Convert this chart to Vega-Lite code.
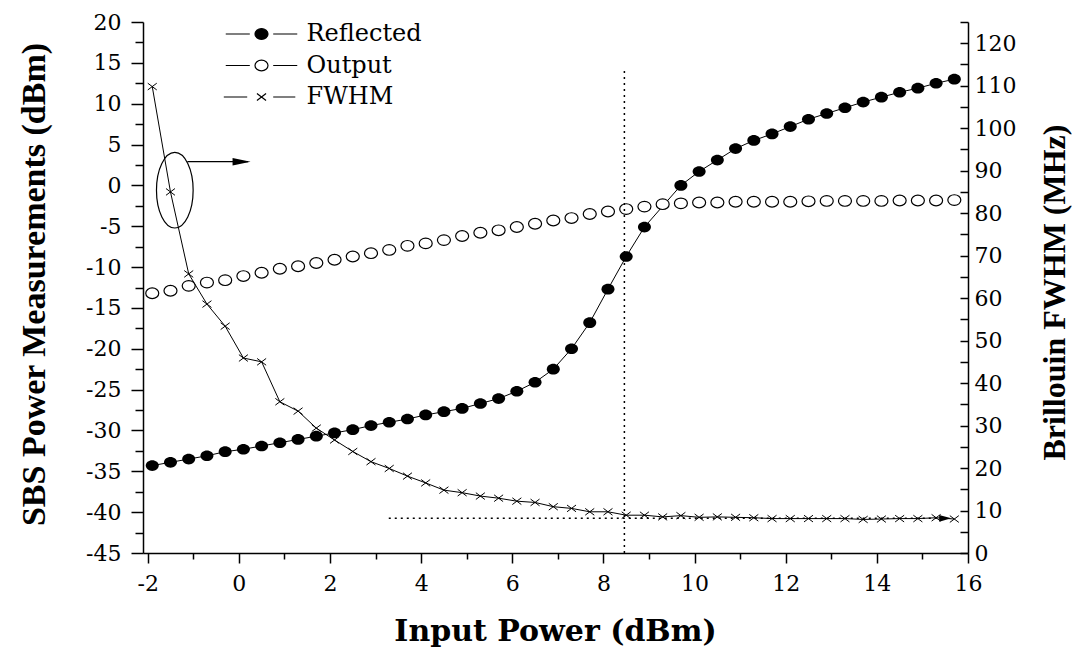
{
  "$schema": "https://vega.github.io/schema/vega-lite/v6.json",
  "width": 825,
  "height": 531,
  "autosize": {"type": "none"},
  "padding": {"left": 143, "top": 22, "right": 104, "bottom": 94},
  "background": "white",
  "config": {
    "view": {"stroke": null},
    "axis": {
      "domainColor": "black", "domainWidth": 1.5, "tickColor": "black", "tickWidth": 1.5,
      "labelColor": "black", "labelFont": "DejaVu Serif", "labelFontSize": 22,
      "titleColor": "black", "grid": false
    },
    "legend": {
      "padding": 0,
      "symbolSize": 169,
      "symbolStrokeWidth": 1.2,
      "symbolStrokeColor": "black",
      "labelFont": "DejaVu Serif",
      "labelFontSize": 24,
      "labelColor": "black",
      "labelOffset": 33,
      "rowPadding": 7.5
    }
  },
  "datasets": {
    "series": [
      {"s": "Reflected", "x": -1.9, "v": -34.3}, {"s": "Reflected", "x": -1.5, "v": -33.9}, {"s": "Reflected", "x": -1.1, "v": -33.5}, {"s": "Reflected", "x": -0.7, "v": -33.1}, {"s": "Reflected", "x": -0.3, "v": -32.6}, {"s": "Reflected", "x": 0.1, "v": -32.3}, {"s": "Reflected", "x": 0.5, "v": -31.9}, {"s": "Reflected", "x": 0.9, "v": -31.5}, {"s": "Reflected", "x": 1.3, "v": -31.1}, {"s": "Reflected", "x": 1.7, "v": -30.7}, {"s": "Reflected", "x": 2.1, "v": -30.3}, {"s": "Reflected", "x": 2.5, "v": -29.9}, {"s": "Reflected", "x": 2.9, "v": -29.4}, {"s": "Reflected", "x": 3.3, "v": -29.0}, {"s": "Reflected", "x": 3.7, "v": -28.6}, {"s": "Reflected", "x": 4.1, "v": -28.1}, {"s": "Reflected", "x": 4.5, "v": -27.7}, {"s": "Reflected", "x": 4.9, "v": -27.3}, {"s": "Reflected", "x": 5.3, "v": -26.7}, {"s": "Reflected", "x": 5.7, "v": -26.1}, {"s": "Reflected", "x": 6.1, "v": -25.2}, {"s": "Reflected", "x": 6.5, "v": -24.1}, {"s": "Reflected", "x": 6.9, "v": -22.5}, {"s": "Reflected", "x": 7.3, "v": -20.0}, {"s": "Reflected", "x": 7.7, "v": -16.8}, {"s": "Reflected", "x": 8.1, "v": -12.7}, {"s": "Reflected", "x": 8.5, "v": -8.7}, {"s": "Reflected", "x": 8.9, "v": -5.1}, {"s": "Reflected", "x": 9.7, "v": 0.0}, {"s": "Reflected", "x": 10.1, "v": 1.7}, {"s": "Reflected", "x": 10.5, "v": 3.1}, {"s": "Reflected", "x": 10.9, "v": 4.5}, {"s": "Reflected", "x": 11.3, "v": 5.5}, {"s": "Reflected", "x": 11.7, "v": 6.3}, {"s": "Reflected", "x": 12.1, "v": 7.2}, {"s": "Reflected", "x": 12.5, "v": 8.1}, {"s": "Reflected", "x": 12.9, "v": 8.8}, {"s": "Reflected", "x": 13.3, "v": 9.5}, {"s": "Reflected", "x": 13.7, "v": 10.2}, {"s": "Reflected", "x": 14.1, "v": 10.8}, {"s": "Reflected", "x": 14.5, "v": 11.4}, {"s": "Reflected", "x": 14.9, "v": 11.9}, {"s": "Reflected", "x": 15.3, "v": 12.5}, {"s": "Reflected", "x": 15.7, "v": 13.0},
      {"s": "Output", "x": -1.9, "v": -13.2}, {"s": "Output", "x": -1.5, "v": -12.9}, {"s": "Output", "x": -1.1, "v": -12.3}, {"s": "Output", "x": -0.7, "v": -11.9}, {"s": "Output", "x": -0.3, "v": -11.6}, {"s": "Output", "x": 0.1, "v": -11.1}, {"s": "Output", "x": 0.5, "v": -10.7}, {"s": "Output", "x": 0.9, "v": -10.2}, {"s": "Output", "x": 1.3, "v": -9.9}, {"s": "Output", "x": 1.7, "v": -9.5}, {"s": "Output", "x": 2.1, "v": -9.1}, {"s": "Output", "x": 2.5, "v": -8.7}, {"s": "Output", "x": 2.9, "v": -8.3}, {"s": "Output", "x": 3.3, "v": -7.9}, {"s": "Output", "x": 3.7, "v": -7.4}, {"s": "Output", "x": 4.1, "v": -7.1}, {"s": "Output", "x": 4.5, "v": -6.7}, {"s": "Output", "x": 4.9, "v": -6.2}, {"s": "Output", "x": 5.3, "v": -5.8}, {"s": "Output", "x": 5.7, "v": -5.5}, {"s": "Output", "x": 6.1, "v": -5.1}, {"s": "Output", "x": 6.5, "v": -4.7}, {"s": "Output", "x": 6.9, "v": -4.3}, {"s": "Output", "x": 7.3, "v": -4.0}, {"s": "Output", "x": 7.7, "v": -3.5}, {"s": "Output", "x": 8.1, "v": -3.2}, {"s": "Output", "x": 8.5, "v": -2.9}, {"s": "Output", "x": 8.9, "v": -2.6}, {"s": "Output", "x": 9.3, "v": -2.3}, {"s": "Output", "x": 9.7, "v": -2.2}, {"s": "Output", "x": 10.1, "v": -2.1}, {"s": "Output", "x": 10.5, "v": -2.1}, {"s": "Output", "x": 10.9, "v": -2.0}, {"s": "Output", "x": 11.3, "v": -2.0}, {"s": "Output", "x": 11.7, "v": -2.0}, {"s": "Output", "x": 12.1, "v": -2.0}, {"s": "Output", "x": 12.5, "v": -1.95}, {"s": "Output", "x": 12.9, "v": -1.9}, {"s": "Output", "x": 13.3, "v": -1.9}, {"s": "Output", "x": 13.7, "v": -1.9}, {"s": "Output", "x": 14.1, "v": -1.9}, {"s": "Output", "x": 14.5, "v": -1.85}, {"s": "Output", "x": 14.9, "v": -1.85}, {"s": "Output", "x": 15.3, "v": -1.85}, {"s": "Output", "x": 15.7, "v": -1.8},
      {"s": "FWHM", "x": -1.9, "v": 109.8}, {"s": "FWHM", "x": -1.5, "v": 85.0}, {"s": "FWHM", "x": -1.1, "v": 65.7}, {"s": "FWHM", "x": -0.7, "v": 58.6}, {"s": "FWHM", "x": -0.3, "v": 53.4}, {"s": "FWHM", "x": 0.1, "v": 45.9}, {"s": "FWHM", "x": 0.5, "v": 45.0}, {"s": "FWHM", "x": 0.9, "v": 35.6}, {"s": "FWHM", "x": 1.3, "v": 33.4}, {"s": "FWHM", "x": 1.7, "v": 29.4}, {"s": "FWHM", "x": 2.1, "v": 26.6}, {"s": "FWHM", "x": 2.5, "v": 23.9}, {"s": "FWHM", "x": 2.9, "v": 21.5}, {"s": "FWHM", "x": 3.3, "v": 19.9}, {"s": "FWHM", "x": 3.7, "v": 18.1}, {"s": "FWHM", "x": 4.1, "v": 16.5}, {"s": "FWHM", "x": 4.5, "v": 14.8}, {"s": "FWHM", "x": 4.9, "v": 14.2}, {"s": "FWHM", "x": 5.3, "v": 13.4}, {"s": "FWHM", "x": 5.7, "v": 12.9}, {"s": "FWHM", "x": 6.1, "v": 12.2}, {"s": "FWHM", "x": 6.5, "v": 11.9}, {"s": "FWHM", "x": 6.9, "v": 10.9}, {"s": "FWHM", "x": 7.3, "v": 10.5}, {"s": "FWHM", "x": 7.7, "v": 9.7}, {"s": "FWHM", "x": 8.1, "v": 9.7}, {"s": "FWHM", "x": 8.5, "v": 8.9}, {"s": "FWHM", "x": 8.9, "v": 8.9}, {"s": "FWHM", "x": 9.3, "v": 8.5}, {"s": "FWHM", "x": 9.7, "v": 8.8}, {"s": "FWHM", "x": 10.1, "v": 8.4}, {"s": "FWHM", "x": 10.5, "v": 8.5}, {"s": "FWHM", "x": 10.9, "v": 8.4}, {"s": "FWHM", "x": 11.3, "v": 8.3}, {"s": "FWHM", "x": 11.7, "v": 8.1}, {"s": "FWHM", "x": 12.1, "v": 8.1}, {"s": "FWHM", "x": 12.5, "v": 8.1}, {"s": "FWHM", "x": 12.9, "v": 8.1}, {"s": "FWHM", "x": 13.3, "v": 8.1}, {"s": "FWHM", "x": 13.7, "v": 7.9}, {"s": "FWHM", "x": 14.1, "v": 8.0}, {"s": "FWHM", "x": 14.5, "v": 8.1}, {"s": "FWHM", "x": 14.9, "v": 8.1}, {"s": "FWHM", "x": 15.3, "v": 8.3}, {"s": "FWHM", "x": 15.7, "v": 8.0}
    ]
  },
  "encoding": {
    "x": {
      "field": "x", "type": "quantitative",
      "scale": {"domain": [-2.103, 16], "nice": false, "zero": false},
      "axis": {
        "values": [-2, -1, 0, 1, 2, 3, 4, 5, 6, 7, 8, 9, 10, 11, 12, 13, 14, 15, 16],
        "labelExpr": "datum.value % 2 === 0 ? '' + datum.value : ''",
        "tickSize": {"condition": {"test": "datum.value % 2 === 0", "value": 10}, "value": 6},
        "labelPadding": 10,
        "labelFlush": false,
        "labelOverlap": false,
        "title": "Input Power (dBm)",
        "titleFont": "DejaVu Serif", "titleFontWeight": "bold", "titleFontSize": 30,
        "titleAlign": "center", "titleBaseline": "alphabetic", "titleX": 412, "titleY": 87
      }
    }
  },
  "layer": [
    {
      "encoding": {
        "y": {
          "field": "v", "type": "quantitative",
          "scale": {"domain": [-45, 20], "nice": false, "zero": false},
          "axis": {
            "orient": "left",
            "values": [-45, -42.5, -40, -37.5, -35, -32.5, -30, -27.5, -25, -22.5, -20, -17.5, -15, -12.5, -10, -7.5, -5, -2.5, 0, 2.5, 5, 7.5, 10, 12.5, 15, 17.5, 20],
            "labelExpr": "datum.value % 5 === 0 ? '' + datum.value : ''",
            "tickSize": {"condition": {"test": "datum.value % 5 === 0", "value": 12}, "value": 8},
            "labelPadding": 10,
            "labelOverlap": false,
            "labelFlush": false,
            "title": "SBS Power Measurements (dBm)",
            "titleFont": "Liberation Serif", "titleFontWeight": "bold", "titleFontSize": 34,
            "titleAngle": -90, "titleAlign": "center", "titleBaseline": "alphabetic",
            "titleX": -99, "titleY": 262
          }
        }
      },
      "layer": [
        {
          "data": {"name": "series"},
          "transform": [{"filter": "datum.s === 'Reflected'"}],
          "mark": {"type": "line", "strokeWidth": 1},
          "encoding": {
            "color": {
              "field": "s", "type": "nominal",
              "scale": {"domain": ["Reflected", "Output", "FWHM"], "range": ["black", "black", "black"]},
              "legend": {
                "title": null, "orient": "none", "legendX": 106.5, "legendY": 0,
                "encode": {
                  "symbols": {
                    "update": {
                      "shape": {"signal": "datum.value === 'Reflected' ? 'M-5.5,0L-1.8,0M1.8,0L5.5,0M-1,0A1,0.82 0 1,1 1,0A1,0.82 0 1,1 -1,0Z' : datum.value === 'Output' ? 'M-5.5,0L-1.8,0M1.8,0L5.5,0M-1,0A1,0.82 0 1,1 1,0A1,0.82 0 1,1 -1,0Z' : 'M-5.8,0L-2.2,0M1.8,0L5.2,0M-0.7,-0.55L0.7,0.55M-0.7,0.55L0.7,-0.55'"},
                      "fill": {"signal": "datum.value === 'Reflected' ? 'black' : 'white'"},
                      "stroke": {"value": "black"},
                      "strokeWidth": {"value": 1.2},
                      "opacity": {"value": 1}
                    }
                  }
                }
              }
            }
          }
        },
        {
          "data": {"name": "series"},
          "transform": [{"filter": "datum.s === 'Output'"}],
          "mark": {"type": "point", "shape": "M-1,0A1,0.82 0 1,1 1,0A1,0.82 0 1,1 -1,0Z", "size": 169, "filled": true, "fill": "white", "stroke": "black", "strokeWidth": 1.2, "opacity": 1}
        },
        {
          "data": {"name": "series"},
          "transform": [{"filter": "datum.s === 'Reflected'"}],
          "mark": {"type": "point", "shape": "M-1,0A1,0.82 0 1,1 1,0A1,0.82 0 1,1 -1,0Z", "size": 169, "filled": true, "color": "black", "opacity": 1}
        },
        {
          "data": {"values": [{"x": 8.46, "v": -45, "v2": 14.4}]},
          "mark": {"type": "rule", "strokeDash": [2, 4], "strokeWidth": 1.5, "color": "black"},
          "encoding": {"y2": {"field": "v2"}}
        },
        {
          "data": {"values": [{"x": 3.29, "x2": 15.5, "v": -40.76}]},
          "mark": {"type": "rule", "strokeDash": [2, 4], "strokeWidth": 1.5, "color": "black"},
          "encoding": {"x2": {"field": "x2"}}
        },
        {
          "data": {"values": [{"x": 15.5, "v": -40.76}]},
          "mark": {"type": "point", "shape": "M-1,-0.55L1,0L-1,0.55Z", "size": 144, "filled": true, "color": "black", "opacity": 1}
        },
        {
          "data": {"values": [{"x": -1.13, "x2": 0.2, "v": 2.9}]},
          "mark": {"type": "rule", "strokeWidth": 1.2, "color": "black"},
          "encoding": {"x2": {"field": "x2"}}
        },
        {
          "data": {"values": [{"x": 0.06, "v": 2.9}]},
          "mark": {"type": "point", "shape": "M-1,-0.42L1,0L-1,0.42Z", "size": 324, "filled": true, "color": "black", "opacity": 1}
        },
        {
          "data": {"values": [{"x": -1.405, "v": -0.59}]},
          "mark": {"type": "point", "shape": "M0,-1A0.485,1 0 1,1 0,1A0.485,1 0 1,1 0,-1Z", "size": 5715, "filled": false, "color": "black", "strokeWidth": 1.2, "opacity": 1}
        }
      ]
    },
    {
      "encoding": {
        "y": {
          "field": "v", "type": "quantitative",
          "scale": {"domain": [0, 125], "nice": false, "zero": false},
          "axis": {
            "orient": "right",
            "values": [0, 5, 10, 15, 20, 25, 30, 35, 40, 45, 50, 55, 60, 65, 70, 75, 80, 85, 90, 95, 100, 105, 110, 115, 120, 125],
            "labelExpr": "datum.value % 10 === 0 ? '' + datum.value : ''",
            "tickSize": -8,
            "labelPadding": 14,
            "labelOverlap": false,
            "labelFlush": false,
            "title": "Brillouin FWHM (MHz)",
            "titleFont": "Liberation Serif", "titleFontWeight": "bold", "titleFontSize": 32,
            "titleAngle": -90, "titleAlign": "center", "titleBaseline": "alphabetic",
            "titleX": 96, "titleY": 270
          }
        }
      },
      "layer": [
        {
          "data": {"name": "series"},
          "transform": [{"filter": "datum.s === 'FWHM'"}],
          "mark": {"type": "line", "strokeWidth": 1},
          "encoding": {
            "color": {"field": "s", "type": "nominal"}
          }
        },
        {
          "data": {"name": "series"},
          "transform": [{"filter": "datum.s === 'FWHM'"}],
          "mark": {"type": "point", "shape": "M-1,-0.75L1,0.75M-1,0.75L1,-0.75", "size": 81, "filled": false, "color": "black", "strokeWidth": 1, "opacity": 1}
        }
      ]
    }
  ],
  "resolve": {"scale": {"y": "independent"}}
}
